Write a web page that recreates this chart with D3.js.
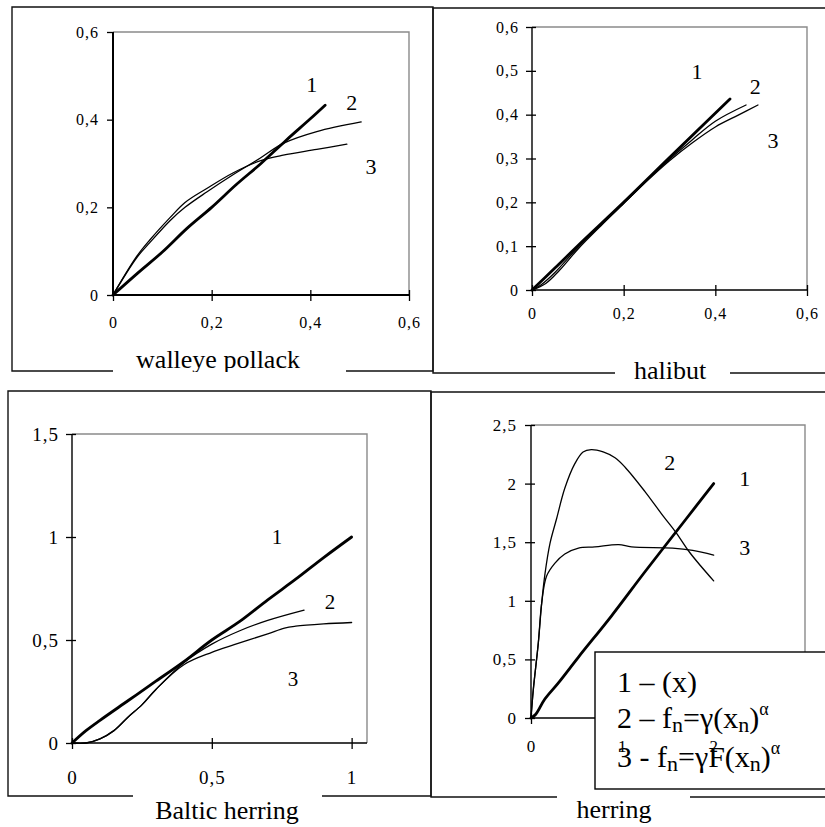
<!DOCTYPE html>
<html>
<head>
<meta charset="utf-8">
<script src="https://cdn.jsdelivr.net/npm/d3@7.9.0/dist/d3.min.js"></script>
<style>
  body { margin: 0; background: #fff; }
  text { font-family: "Liberation Serif", "Times New Roman", serif; fill: #000; }
</style>
</head>
<body>
<svg id="chart" width="825" height="827"></svg>
<script>
// walleye pollack
const pollackLine1 = [[0,0],[0.05,0.05],[0.1,0.098],[0.15,0.152],[0.2,0.2],[0.25,0.252],[0.3,0.3],[0.35,0.352],[0.4,0.402],[0.43,0.433]];
const pollackLine2 = [[0,0],[0.048,0.085],[0.075,0.12],[0.116,0.17],[0.146,0.2],[0.19,0.235],[0.244,0.275],[0.298,0.312],[0.345,0.346],[0.413,0.373],[0.503,0.395]];
const pollackLine3 = [[0,0],[0.048,0.088],[0.075,0.126],[0.116,0.177],[0.146,0.211],[0.19,0.243],[0.244,0.279],[0.298,0.306],[0.345,0.319],[0.413,0.332],[0.474,0.344]];

// halibut
const halibutLine1 = [[0,0],[0.05,0.05],[0.1,0.101],[0.2,0.2],[0.3,0.302],[0.38,0.383],[0.432,0.436]];
const halibutLine2 = [[0,0],[0.02,0.012],[0.05,0.04],[0.1,0.097],[0.15,0.148],[0.2,0.198],[0.25,0.25],[0.3,0.298],[0.35,0.343],[0.4,0.385],[0.467,0.422]];
const halibutLine3 = [[0,0],[0.03,0.015],[0.06,0.045],[0.1,0.093],[0.15,0.146],[0.2,0.197],[0.25,0.248],[0.3,0.295],[0.35,0.336],[0.4,0.372],[0.45,0.399],[0.493,0.422]];

// Baltic herring
const balticLine1 = [[0,0],[0.05,0.06],[0.1,0.11],[0.2,0.205],[0.3,0.3],[0.4,0.395],[0.5,0.5],[0.6,0.59],[0.7,0.695],[0.8,0.795],[0.9,0.9],[1,1]];
const balticLine2 = [[0,0],[0.05,0],[0.1,0.02],[0.15,0.06],[0.2,0.125],[0.25,0.185],[0.3,0.26],[0.4,0.39],[0.5,0.48],[0.6,0.545],[0.7,0.595],[0.83,0.645]];
const balticLine3 = [[0,0],[0.05,0],[0.1,0.02],[0.15,0.06],[0.2,0.125],[0.25,0.185],[0.3,0.26],[0.4,0.38],[0.5,0.44],[0.58,0.477],[0.7,0.53],[0.76,0.558],[0.8,0.567],[0.9,0.578],[1,0.585]];

// herring
const herringLine1 = [[0,0],[0.05,0.03],[0.15,0.16],[0.3,0.3],[0.52,0.52],[0.88,0.87],[1.25,1.25],[1.7,1.7],[2,2]];
const herringLine2 = [[0,0],[0.025,0.24],[0.08,0.64],[0.117,0.98],[0.153,1.23],[0.208,1.49],[0.28,1.7],[0.37,1.96],[0.48,2.17],[0.57,2.27],[0.66,2.29],[0.79,2.27],[0.92,2.22],[1.03,2.14],[1.25,1.93],[1.45,1.72],[1.59,1.58],[1.74,1.41],[2,1.17]];
const herringLine3 = [[0,0],[0.025,0.24],[0.08,0.64],[0.117,0.98],[0.17,1.21],[0.26,1.32],[0.37,1.4],[0.52,1.45],[0.7,1.46],[0.96,1.48],[1.1,1.46],[1.55,1.45],[1.77,1.43],[2,1.39]];

// ticks
const smallTicks = [0, 0.2, 0.4, 0.6];
const halibutYTicks = [0, 0.1, 0.2, 0.3, 0.4, 0.5, 0.6];
const balticTicks = [0, 0.5, 1];
const balticYTicks = [0, 0.5, 1, 1.5];
const herringXTicks = [0, 1, 2];
const herringYTicks = [0, 0.5, 1, 1.5, 2, 2.5];

const curveNames = ["1", "2", "3"];
const titles = ["walleye pollack", "halibut", "Baltic herring", "herring"];

const legendLines = [
  [{t: "1 – (x)"}],
  [{t: "2 – f"}, {t: "n", sub: true}, {t: "=γ(x"}, {t: "n", sub: true}, {t: ")"}, {t: "α", sup: true}],
  [{t: "3 - f"}, {t: "n", sub: true}, {t: "=γF(x"}, {t: "n", sub: true}, {t: ")"}, {t: "α", sup: true}]
];

const panels = [
  { lines: [pollackLine1, pollackLine2, pollackLine3], title: titles[0],
    left: 113, right: 409, top: 32, bottom: 295, xMax: 0.6, yMax: 0.6,
    xTicks: smallTicks, yTicks: smallTicks, tickFont: 16, yGap: 14, xBase: 33, axisW: 2,
    frame: {l: 12, t: 7, r: 433, b: 371, gap: [113, 346]}, titleX: 218, titleY: 368, clipY: 372,
    labelAt: [[0.403, 0.463], [0.484, 0.422], [0.523, 0.276]], labelFont: 22 },
  { lines: [halibutLine1, halibutLine2, halibutLine3], title: titles[1],
    left: 532, right: 807, top: 27, bottom: 290, xMax: 0.6, yMax: 0.6,
    xTicks: smallTicks, yTicks: halibutYTicks, tickFont: 16, yGap: 13, xBase: 29, axisW: 1.4,
    frame: {l: 433, t: 8, r: 830, b: 373, gap: [615, 730]}, titleX: 670, titleY: 379,
    labelAt: [[0.36, 0.481], [0.487, 0.447], [0.526, 0.324]], labelFont: 22 },
  { lines: [balticLine1, balticLine2, balticLine3], title: titles[2],
    left: 72, right: 367, top: 434, bottom: 743, xMax: 1.055, yMax: 1.5,
    xTicks: balticTicks, yTicks: balticYTicks, tickFont: 19, yGap: 13, xBase: 41, axisW: 1.4,
    frame: {l: 8, t: 391, r: 431, b: 796, gap: [133, 322]}, titleX: 227, titleY: 819,
    labelAt: [[0.733, 0.967], [0.923, 0.652], [0.79, 0.278]], labelFont: 21 },
  { lines: [herringLine1, herringLine2, herringLine3], title: titles[3],
    left: 531, right: 805, top: 425, bottom: 718, xMax: 3, yMax: 2.5,
    xTicks: herringXTicks, yTicks: herringYTicks, tickFont: 17, yGap: 14, xBase: 34, axisW: 1.4,
    frame: {l: 431, t: 392, r: 830, b: 797, gap: [557, 690]}, titleX: 614, titleY: 818,
    labelAt: [[2.34, 1.98], [1.52, 2.12], [2.34, 1.39]], labelFont: 22 }
];

const svg = d3.select('#chart');
svg.append('rect').attr('width', 825).attr('height', 827).attr('fill', '#fff');

const fmt = d3.formatLocale({decimal: ',', thousands: ' ', grouping: [3], currency: ['', '']}).format('.1~f');
const serif = '"Liberation Serif", "Times New Roman", serif';

const baseLayer = svg.append('g');
const legendLayer = svg.append('g');
const labelLayer = svg.append('g');

const line = d3.line().curve(d3.curveCatmullRom.alpha(0.5));

panels.forEach((p, i) => {
  const x = d3.scaleLinear().domain([0, p.xMax]).range([p.left, p.right]);
  const y = d3.scaleLinear().domain([0, p.yMax]).range([p.bottom, p.top]);
  const g = baseLayer.append('g');

  // outer frame with a gap for the title
  const f = p.frame;
  g.append('path')
    .attr('d', `M${f.gap[0]},${f.b}H${f.l}V${f.t}H${f.r}V${f.b}H${f.gap[1]}`)
    .attr('fill', 'none').attr('stroke', '#111').attr('stroke-width', 1.4);

  // plot area border
  g.append('path')
    .attr('d', `M${p.left},${p.top}H${p.right}V${p.bottom}`)
    .attr('fill', 'none').attr('stroke', '#8a8a8a').attr('stroke-width', 1.4);

  // y axis ticks + labels
  const ya = g.append('g').attr('transform', `translate(${p.left},0)`)
    .call(d3.axisLeft(y).tickValues(p.yTicks).tickFormat(fmt).tickSizeOuter(0));
  ya.attr('font-family', serif).attr('font-size', p.tickFont);
  ya.select('.domain').remove();
  ya.selectAll('line').attr('x1', i === 0 ? 0 : 4).attr('x2', -6).attr('stroke-width', 1.3);
  ya.selectAll('text').attr('x', -p.yGap).attr('letter-spacing', '1px');

  // x axis ticks (labels go on the top layer)
  const xa = g.append('g').attr('transform', `translate(0,${p.bottom})`)
    .call(d3.axisBottom(x).tickValues(p.xTicks).tickFormat('').tickSizeOuter(0));
  xa.select('.domain').remove();
  xa.selectAll('line').attr('y1', -5).attr('y2', 6).attr('stroke-width', 1.3);

  const xl = labelLayer.append('g').attr('transform', `translate(0,${p.bottom})`)
    .call(d3.axisBottom(x).tickValues(p.xTicks).tickFormat(fmt).tickSize(0));
  xl.attr('font-family', serif).attr('font-size', p.tickFont);
  xl.select('.domain').remove();
  xl.selectAll('text').attr('y', p.xBase).attr('dy', null).attr('letter-spacing', '1px');

  // axis lines
  g.append('path')
    .attr('d', `M${p.left},${p.top}V${p.bottom}H${p.right}`)
    .attr('fill', 'none').attr('stroke', '#000').attr('stroke-width', p.axisW);

  // curves
  p.lines.forEach((d, k) => {
    g.append('path')
      .attr('d', line(d.map(v => [x(v[0]), y(v[1])])))
      .attr('fill', 'none').attr('stroke', '#000')
      .attr('stroke-width', k === 0 ? 2.8 : 1.3)
      .attr('stroke-linejoin', 'round').attr('stroke-linecap', 'round');
  });

  // curve numbers
  curveNames.forEach((name, k) => {
    g.append('text')
      .attr('x', x(p.labelAt[k][0])).attr('y', y(p.labelAt[k][1]))
      .attr('text-anchor', 'middle').attr('font-size', p.labelFont)
      .text(name);
  });

  // title
  const t = g.append('text')
    .attr('x', p.titleX).attr('y', p.titleY)
    .attr('text-anchor', 'middle').attr('font-size', 26)
    .text(p.title);
  if (p.clipY) {
    svg.append('clipPath').attr('id', 'clip' + i)
      .append('rect').attr('x', 0).attr('y', 0).attr('width', 825).attr('height', p.clipY);
    t.attr('clip-path', `url(#clip${i})`);
  }
});

// legend box in the herring panel
legendLayer.append('rect')
  .attr('x', 595).attr('y', 652).attr('width', 240).attr('height', 137)
  .attr('fill', '#fff').attr('stroke', '#000').attr('stroke-width', 1.4);

const legendBase = [692, 728, 767];
legendLines.forEach((segs, r) => {
  const txt = legendLayer.append('text')
    .attr('x', 617).attr('y', legendBase[r]).attr('font-size', 30);
  let cur = 0;
  segs.forEach(s => {
    const off = s.sub ? 4 : s.sup ? -13 : 0;
    txt.append('tspan')
      .attr('dy', off - cur)
      .attr('font-size', s.sub ? 22 : s.sup ? 18 : 30)
      .text(s.t);
    cur = off;
  });
});
</script>
</body>
</html>
